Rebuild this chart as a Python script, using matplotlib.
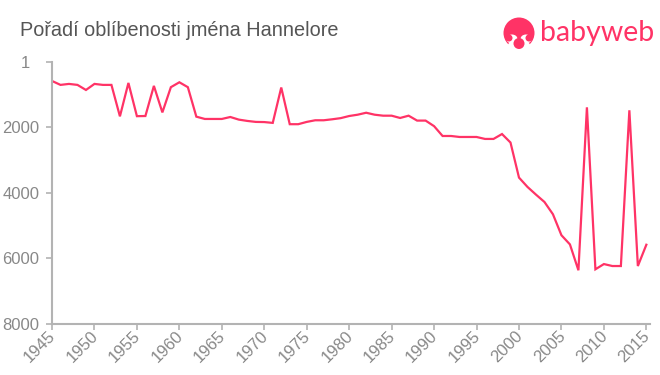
import matplotlib
matplotlib.use('Agg')
import matplotlib.pyplot as plt
from matplotlib.patches import Circle, Ellipse
from matplotlib.transforms import ScaledTranslation

# Rank of the name per year
years = list(range(1945, 2016))
rank = [580, 700, 670, 700, 855, 670, 700, 700, 1660, 640,
        1655, 1650, 730, 1540, 770, 620, 770, 1670, 1740, 1740,
        1740, 1680, 1760, 1800, 1830, 1835, 1860, 780, 1900, 1900,
        1830, 1780, 1780, 1750, 1715, 1650, 1610, 1550, 1610, 1640,
        1640, 1710, 1640, 1790, 1790, 1960, 2260, 2260, 2290, 2290,
        2290, 2350, 2350, 2200, 2460, 3530, 3815, 4050, 4275, 4650,
        5290, 5570, 6360, 1385, 6330, 6170, 6230, 6230, 1475, 6230,
        5580]
x_ticks = list(range(1945, 2016, 5))
y_ticks = [1, 2000, 4000, 6000, 8000]

title = 'Pořadí oblíbenosti jména Hannelore'
pink = '#ff3366'
grey = '#b3b3b3'
text_grey = '#888888'

plt.rcParams['font.family'] = ['Liberation Sans', 'DejaVu Sans']

W, H = 660, 375
fig = plt.figure(figsize=(W / 100, H / 100), dpi=100)
ax = fig.add_axes([52 / W, 1 - 324 / H, 598 / W, 262 / H])

ax.plot(years, rank, color=pink, linewidth=1.6, solid_joinstyle='miter')
# bottom axis runs a little past the 2015 tick
ax.set_xlim(1945, 2015.43)
ax.set_ylim(8000, 1)
ax.set_xticks(x_ticks)
ax.set_yticks(y_ticks)
ax.set_xticklabels(x_ticks, rotation=45, ha='right', rotation_mode='anchor')
ax.tick_params(axis='both', colors=grey, labelcolor=text_grey, labelsize=12,
               length=4, width=1.2)
ax.tick_params(axis='x', pad=1)
ax.tick_params(axis='y', pad=5)

# labels sit a little left of their ticks in the reference
shift = ScaledTranslation(-4 / 100, 3 / 100, fig.dpi_scale_trans)
for label in ax.get_xticklabels():
    label.set_transform(label.get_transform() + shift)
first = ax.get_yticklabels()[0]
first.set_transform(first.get_transform() + ScaledTranslation(-9 / 100, 0, fig.dpi_scale_trans))

for side in ['top', 'right']:
    ax.spines[side].set_visible(False)
for side in ['left', 'bottom']:
    ax.spines[side].set_color(grey)
    ax.spines[side].set_linewidth(1.5)

fig.text(20 / W, 1 - 30.5 / H, title, fontsize=14.35, color='#555555',
         va='center', ha='left')

# logo, drawn in pixel coordinates on a full-figure overlay
logo = fig.add_axes([0, 0, 1, 1], facecolor='none')
logo.set_xlim(0, W)
logo.set_ylim(H, 0)
logo.axis('off')
logo.add_patch(Circle((519, 33), 15.5, color=pink, lw=0))
logo.add_patch(Ellipse((512, 39), 11, 9, color='white', lw=0))
logo.add_patch(Ellipse((526, 39), 11, 9, color='white', lw=0))
logo.add_patch(Ellipse((519, 45), 22, 9, color='white', lw=0))
logo.add_patch(Circle((509, 38), 3.5, color=pink, lw=0))
logo.add_patch(Circle((529, 38), 3.5, color=pink, lw=0))
logo.add_patch(Circle((519, 43.5), 5.5, color=pink, lw=0))
logo.text(540, 33, 'babyweb', fontsize=20.5, color=pink, va='center', ha='left',
          family=['Lato', 'DejaVu Sans'])

fig.savefig('out.png', dpi=100)
